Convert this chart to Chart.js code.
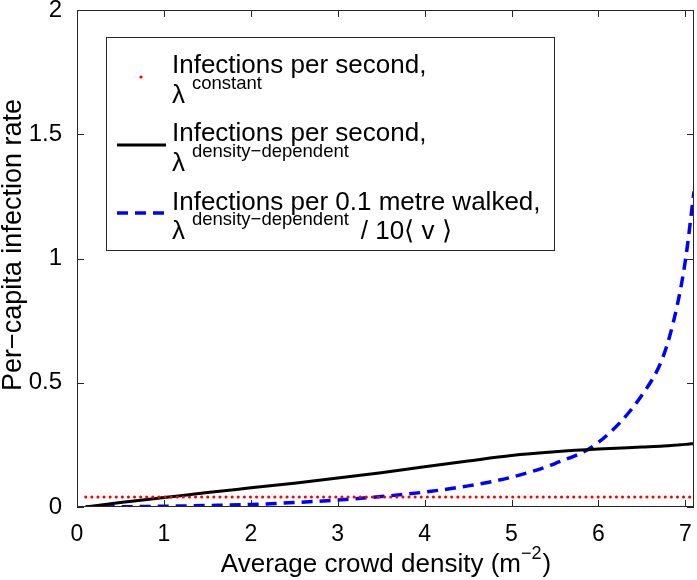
<!DOCTYPE html>
<html>
<head>
<meta charset="utf-8">
<script src="https://cdn.jsdelivr.net/npm/chart.js@4.4.1/dist/chart.umd.min.js"></script>
<style>
  html, body { margin: 0; padding: 0; background: #fff; }
  #wrap { width: 697px; height: 580px; }
</style>
</head>
<body>
<div id="wrap"><canvas id="chart" width="697" height="580"></canvas></div>
<script>
// density values (m^-2)
const densityX = [0.1, 0.5, 1, 1.5, 2, 2.5, 3, 3.5, 4, 4.5, 5, 5.5, 6, 6.5, 6.75, 6.9, 7, 7.1];
// per-capita infection rate, per second, density dependent
const rateDensity = [0, 0.018, 0.038, 0.058, 0.077, 0.096, 0.117, 0.138, 0.162, 0.185, 0.207, 0.222, 0.233, 0.241, 0.245, 0.249, 0.252, 0.256];
// per 0.1 metre walked
const ratePerWalk = [0, 0.001, 0.003, 0.006, 0.01, 0.018, 0.028, 0.042, 0.06, 0.085, 0.12, 0.175, 0.26, 0.45, 0.61, 0.8, 0.99, 1.27];
// constant rate
const constX = [0.1, 7.1];
const rateConstant = [0.04, 0.04];

const xTicks = [0, 1, 2, 3, 4, 5, 6, 7];
const yTicks = [0, 0.5, 1, 1.5, 2];

const FONT = "'Liberation Sans', Arial, Helvetica, sans-serif";

const toPoints = (xs, ys) => xs.map((x, i) => ({ x: x, y: ys[i] }));

// axes box, inward ticks, axis titles and legend (MATLAB look)
const matlabDecor = {
  id: "matlabDecor",
  afterDraw(chart) {
    const ctx = chart.ctx;
    const a = chart.chartArea;
    const sx = chart.scales.x, sy = chart.scales.y;
    ctx.save();
    ctx.strokeStyle = "#262626";
    ctx.lineWidth = 1;
    ctx.strokeRect(a.left + 0.5, a.top + 0.5, a.right - a.left - 1, a.bottom - a.top - 1);
    const tl = 7;
    ctx.beginPath();
    xTicks.forEach((v) => {
      const px = Math.round(sx.getPixelForValue(v)) + 0.5;
      ctx.moveTo(px, a.bottom); ctx.lineTo(px, a.bottom - tl);
      ctx.moveTo(px, a.top); ctx.lineTo(px, a.top + tl);
    });
    yTicks.forEach((v) => {
      const py = Math.round(sy.getPixelForValue(v)) + 0.5;
      ctx.moveTo(a.left, py); ctx.lineTo(a.left + tl, py);
      ctx.moveTo(a.right, py); ctx.lineTo(a.right - tl, py);
    });
    ctx.stroke();

    ctx.fillStyle = "#000";
    // y title
    ctx.save();
    ctx.translate(21, 245);
    ctx.rotate(-Math.PI / 2);
    ctx.font = "27px " + FONT;
    ctx.textAlign = "center";
    ctx.textBaseline = "alphabetic";
    ctx.fillText("Per\u2212capita infection rate", 0, 0);
    ctx.restore();

    // x title with superscript
    ctx.textBaseline = "alphabetic";
    ctx.textAlign = "left";
    const main = "Average crowd density (m";
    const sup = "\u22122";
    ctx.font = "26px " + FONT;
    const w1 = ctx.measureText(main).width;
    const w3 = ctx.measureText(")").width;
    ctx.font = "18px " + FONT;
    const w2 = ctx.measureText(sup).width;
    let x0 = (a.left + a.right) / 2 - (w1 + w2 + w3) / 2;
    const base = 572;
    ctx.font = "26px " + FONT;
    ctx.fillText(main, x0, base);
    ctx.font = "18px " + FONT;
    ctx.fillText(sup, x0 + w1, base - 13);
    ctx.font = "26px " + FONT;
    ctx.fillText(")", x0 + w1 + w2 + 1, base);

    // legend
    const lg = { l: 106, t: 37, r: 554, b: 250 };
    ctx.fillStyle = "#fff";
    ctx.fillRect(lg.l, lg.t, lg.r - lg.l, lg.b - lg.t);
    ctx.strokeStyle = "#262626";
    ctx.lineWidth = 1;
    ctx.strokeRect(lg.l + 0.5, lg.t + 0.5, lg.r - lg.l, lg.b - lg.t);

    const ds = chart.data.datasets;
    // red dot sample
    ctx.fillStyle = ds[0].borderColor;
    ctx.beginPath();
    ctx.arc(141, 77, 1.6, 0, Math.PI * 2);
    ctx.fill();
    // solid black sample
    ctx.strokeStyle = ds[1].borderColor;
    ctx.lineWidth = ds[1].borderWidth;
    ctx.setLineDash([]);
    ctx.beginPath(); ctx.moveTo(117, 145); ctx.lineTo(166, 145); ctx.stroke();
    // blue dashed sample
    ctx.strokeStyle = ds[2].borderColor;
    ctx.lineWidth = ds[2].borderWidth;
    ctx.setLineDash(ds[2].borderDash);
    ctx.beginPath(); ctx.moveTo(117, 213); ctx.lineTo(166, 213); ctx.stroke();
    ctx.setLineDash([]);

    const tx = 172;
    const lambdaLine = (y, supText, tail) => {
      ctx.font = "26px " + FONT;
      ctx.fillText("\u03bb", tx, y);
      ctx.font = "18.5px " + FONT;
      ctx.fillText(supText, 192, y - 14);
      if (tail) {
        const sw = ctx.measureText(supText).width;
        ctx.font = "26px " + FONT;
        ctx.fillText(tail, 192 + sw + 12, y);
      }
    };
    ctx.fillStyle = "#000";
    ctx.font = "26px " + FONT;
    ctx.fillText("Infections per second,", tx, 73);
    lambdaLine(103, "constant");
    ctx.font = "26px " + FONT;
    ctx.fillText("Infections per second,", tx, 141);
    lambdaLine(171, "density\u2212dependent");
    ctx.font = "26px " + FONT;
    ctx.fillText("Infections per 0.1 metre walked,", tx, 210);
    lambdaLine(239, "density\u2212dependent", "/ 10\u27e8 v \u27e9");
    ctx.restore();
  },
};

new Chart(document.getElementById("chart"), {
  type: "scatter",
  data: {
    datasets: [
      {
        label: "Infections per second, constant",
        data: toPoints(constX, rateConstant),
        showLine: true,
        borderColor: "#ff0000",
        borderWidth: 3,
        borderDash: [0.1, 6],
        borderCapStyle: "round",
        pointRadius: 0,
      },
      {
        label: "Infections per second, density-dependent",
        data: toPoints(densityX, rateDensity),
        showLine: true,
        borderColor: "#000000",
        borderWidth: 3,
        cubicInterpolationMode: "monotone",
        pointRadius: 0,
      },
      {
        label: "Infections per 0.1 metre walked",
        data: toPoints(densityX, ratePerWalk),
        showLine: true,
        borderColor: "#0000ff",
        borderWidth: 3.5,
        borderDash: [11, 7],
        cubicInterpolationMode: "monotone",
        pointRadius: 0,
      },
    ],
  },
  options: {
    responsive: false,
    animation: false,
    layout: { padding: { top: 10, right: 3, left: 0, bottom: 0 } },
    plugins: { legend: { display: false }, tooltip: { enabled: false } },
    scales: {
      x: {
        type: "linear",
        min: 0,
        max: 7.1,
        afterBuildTicks: (s) => { s.ticks = xTicks.map((v) => ({ value: v })); },
        afterFit: (s) => { s.height = 73; s.paddingLeft = 0; s.paddingRight = 0; },
        grid: { display: false },
        border: { display: false },
        ticks: { color: "#000", font: { family: FONT, size: 23 }, padding: 6, maxRotation: 0 },
      },
      y: {
        type: "linear",
        min: 0,
        max: 2,
        afterBuildTicks: (s) => { s.ticks = yTicks.map((v) => ({ value: v })); },
        afterFit: (s) => { s.width = 77; s.paddingTop = 0; s.paddingBottom = 0; },
        grid: { display: false },
        border: { display: false },
        ticks: { color: "#000", font: { family: FONT, size: 24 }, padding: 7, callback: (v) => String(v) },
      },
    },
  },
  plugins: [matlabDecor],
});
</script>
</body>
</html>
